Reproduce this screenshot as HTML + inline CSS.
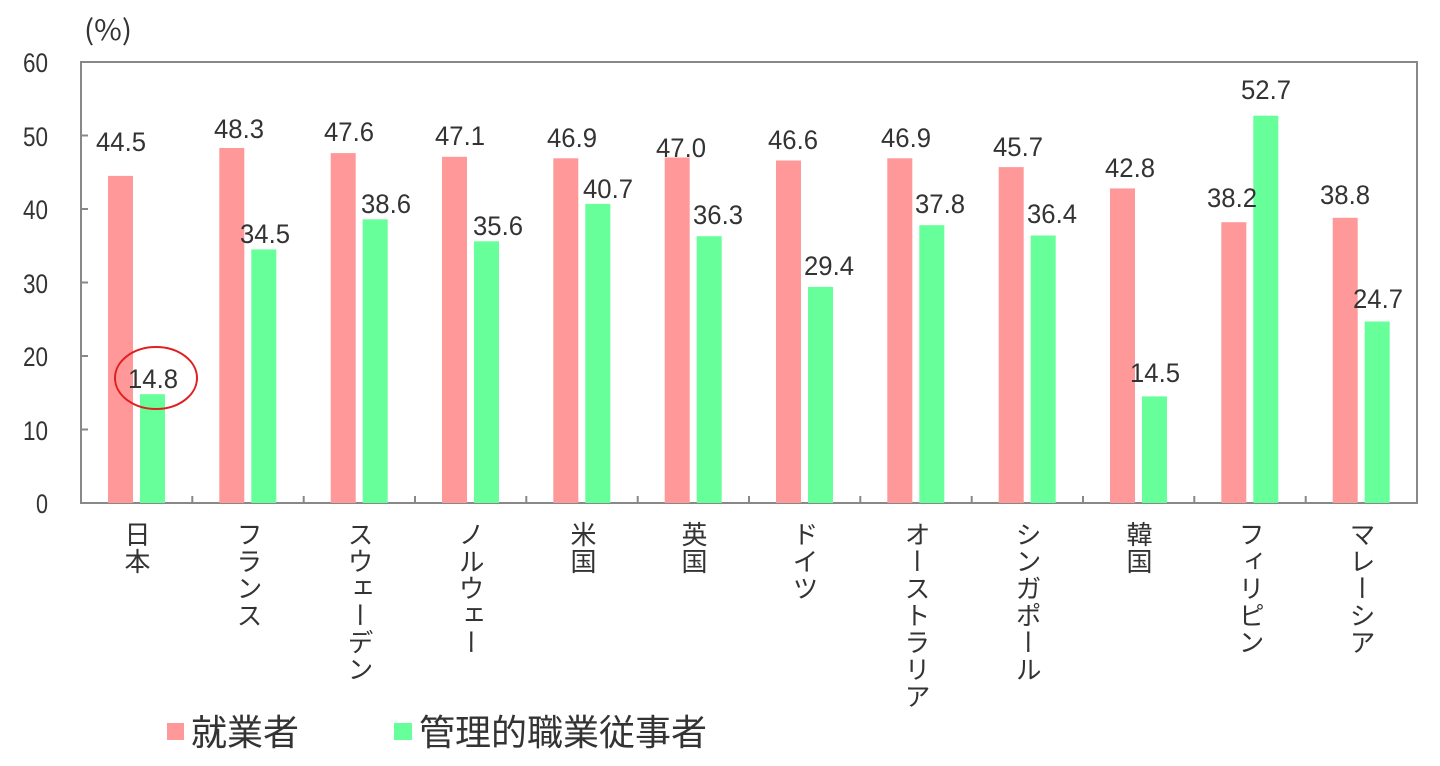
<!DOCTYPE html>
<html><head><meta charset="utf-8"><style>
body{margin:0;background:#fff;width:1440px;height:766px;overflow:hidden;position:relative;font-family:"Liberation Sans","Noto Sans CJK JP",sans-serif;color:#333}
.cat{position:absolute;top:521px;writing-mode:vertical-rl;font-family:"Noto Sans CJK JP",sans-serif;font-size:26px;line-height:26px;width:26px;color:#333;letter-spacing:1px}
svg text{font-family:"Liberation Sans",sans-serif;fill:#333}
</style></head><body>
<svg width="1440" height="766" style="position:absolute;left:0;top:0">
<g font-size="27" text-anchor="end" lengthAdjust="spacingAndGlyphs">
<text x="48" y="72" textLength="25" lengthAdjust="spacingAndGlyphs">60</text><text x="48" y="146" textLength="25" lengthAdjust="spacingAndGlyphs">50</text><text x="48" y="219" textLength="25" lengthAdjust="spacingAndGlyphs">40</text><text x="48" y="293" textLength="25" lengthAdjust="spacingAndGlyphs">30</text><text x="48" y="366" textLength="25" lengthAdjust="spacingAndGlyphs">20</text><text x="48" y="440" textLength="25" lengthAdjust="spacingAndGlyphs">10</text><text x="48" y="513" textLength="12" lengthAdjust="spacingAndGlyphs">0</text>
</g>
<text x="84" y="40" font-size="28" textLength="48" lengthAdjust="spacingAndGlyphs" style="font-family:'Noto Sans CJK JP',sans-serif">(%)</text>
<rect x="81" y="62" width="1336" height="441" fill="none" stroke="#888" stroke-width="2"/>
<g stroke="#888" stroke-width="2">
<line x1="81" y1="135.5" x2="88" y2="135.5"/><line x1="81" y1="209" x2="88" y2="209"/><line x1="81" y1="282.5" x2="88" y2="282.5"/><line x1="81" y1="356" x2="88" y2="356"/><line x1="81" y1="429.5" x2="88" y2="429.5"/>
<line x1="192.3" y1="503" x2="192.3" y2="496"/><line x1="303.7" y1="503" x2="303.7" y2="496"/><line x1="415" y1="503" x2="415" y2="496"/><line x1="526.3" y1="503" x2="526.3" y2="496"/><line x1="637.7" y1="503" x2="637.7" y2="496"/><line x1="749" y1="503" x2="749" y2="496"/><line x1="860.3" y1="503" x2="860.3" y2="496"/><line x1="971.7" y1="503" x2="971.7" y2="496"/><line x1="1083" y1="503" x2="1083" y2="496"/><line x1="1194.3" y1="503" x2="1194.3" y2="496"/><line x1="1305.7" y1="503" x2="1305.7" y2="496"/>
</g>
<g fill="#ff9999">
<rect x="108" y="175.9" width="25" height="327.1"/>
<rect x="219.3" y="148" width="25" height="355"/>
<rect x="330.7" y="153.1" width="25" height="349.9"/>
<rect x="442" y="156.8" width="25" height="346.2"/>
<rect x="553.3" y="158.3" width="25" height="344.7"/>
<rect x="664.7" y="157.5" width="25" height="345.5"/>
<rect x="776" y="160.5" width="25" height="342.5"/>
<rect x="887.3" y="158.3" width="25" height="344.7"/>
<rect x="998.7" y="167.1" width="25" height="335.9"/>
<rect x="1110" y="188.4" width="25" height="314.6"/>
<rect x="1221.3" y="222.2" width="25" height="280.8"/>
<rect x="1332.7" y="217.8" width="25" height="285.2"/>
</g>
<g fill="#66ff99">
<rect x="140" y="394.2" width="25" height="108.8"/>
<rect x="251.3" y="249.4" width="25" height="253.6"/>
<rect x="362.7" y="219.3" width="25" height="283.7"/>
<rect x="474" y="241.3" width="25" height="261.7"/>
<rect x="585.3" y="203.9" width="25" height="299.1"/>
<rect x="696.7" y="236.2" width="25" height="266.8"/>
<rect x="808" y="286.9" width="25" height="216.1"/>
<rect x="919.3" y="225.2" width="25" height="277.8"/>
<rect x="1030.7" y="235.5" width="25" height="267.5"/>
<rect x="1142" y="396.4" width="25" height="106.6"/>
<rect x="1253.3" y="115.7" width="25" height="387.3"/>
<rect x="1364.7" y="321.5" width="25" height="181.5"/>
</g>
<g font-size="27" text-anchor="middle">
<text x="121" y="151" textLength="50" lengthAdjust="spacingAndGlyphs">44.5</text>
<text x="153" y="388" textLength="50" lengthAdjust="spacingAndGlyphs">14.8</text>
<text x="239" y="138" textLength="50" lengthAdjust="spacingAndGlyphs">48.3</text>
<text x="265" y="243" textLength="50" lengthAdjust="spacingAndGlyphs">34.5</text>
<text x="349" y="141" textLength="50" lengthAdjust="spacingAndGlyphs">47.6</text>
<text x="386" y="213" textLength="50" lengthAdjust="spacingAndGlyphs">38.6</text>
<text x="460" y="145" textLength="50" lengthAdjust="spacingAndGlyphs">47.1</text>
<text x="498" y="235" textLength="50" lengthAdjust="spacingAndGlyphs">35.6</text>
<text x="572" y="147" textLength="50" lengthAdjust="spacingAndGlyphs">46.9</text>
<text x="608" y="198" textLength="50" lengthAdjust="spacingAndGlyphs">40.7</text>
<text x="681" y="157" textLength="50" lengthAdjust="spacingAndGlyphs">47.0</text>
<text x="718" y="224" textLength="50" lengthAdjust="spacingAndGlyphs">36.3</text>
<text x="793" y="149" textLength="50" lengthAdjust="spacingAndGlyphs">46.6</text>
<text x="829" y="275" textLength="50" lengthAdjust="spacingAndGlyphs">29.4</text>
<text x="906" y="147" textLength="50" lengthAdjust="spacingAndGlyphs">46.9</text>
<text x="940" y="213" textLength="50" lengthAdjust="spacingAndGlyphs">37.8</text>
<text x="1018" y="156" textLength="50" lengthAdjust="spacingAndGlyphs">45.7</text>
<text x="1052" y="223" textLength="50" lengthAdjust="spacingAndGlyphs">36.4</text>
<text x="1130" y="177" textLength="50" lengthAdjust="spacingAndGlyphs">42.8</text>
<text x="1155" y="382" textLength="50" lengthAdjust="spacingAndGlyphs">14.5</text>
<text x="1232" y="207" textLength="50" lengthAdjust="spacingAndGlyphs">38.2</text>
<text x="1266" y="99" textLength="50" lengthAdjust="spacingAndGlyphs">52.7</text>
<text x="1345" y="204" textLength="50" lengthAdjust="spacingAndGlyphs">38.8</text>
<text x="1378" y="308" textLength="50" lengthAdjust="spacingAndGlyphs">24.7</text>
</g>
<rect x="167" y="723" width="17" height="17" fill="#ff9999"/>
<rect x="394" y="723" width="18" height="17" fill="#66ff99"/>
<text x="191" y="745" font-size="36" style="font-family:'Noto Sans CJK JP',sans-serif;fill:#333">就業者</text>
<text x="419" y="745" font-size="36" style="font-family:'Noto Sans CJK JP',sans-serif;fill:#333">管理的職業従事者</text>
</svg>
<div class="cat" style="left:124px">日本</div>
<div class="cat" style="left:236px">フランス</div>
<div class="cat" style="left:347px">スウェーデン</div>
<div class="cat" style="left:458px">ノルウェー</div>
<div class="cat" style="left:570px">米国</div>
<div class="cat" style="left:681px">英国</div>
<div class="cat" style="left:792px">ドイツ</div>
<div class="cat" style="left:904px">オーストラリア</div>
<div class="cat" style="left:1015px">シンガポール</div>
<div class="cat" style="left:1126px">韓国</div>
<div class="cat" style="left:1238px">フィリピン</div>
<div class="cat" style="left:1349px">マレーシア</div>
<svg width="1440" height="766" style="position:absolute;left:0;top:0;pointer-events:none">
<ellipse cx="156" cy="378" rx="41" ry="31" fill="none" stroke="#e02020" stroke-width="2"/>
</svg>
</body></html>
